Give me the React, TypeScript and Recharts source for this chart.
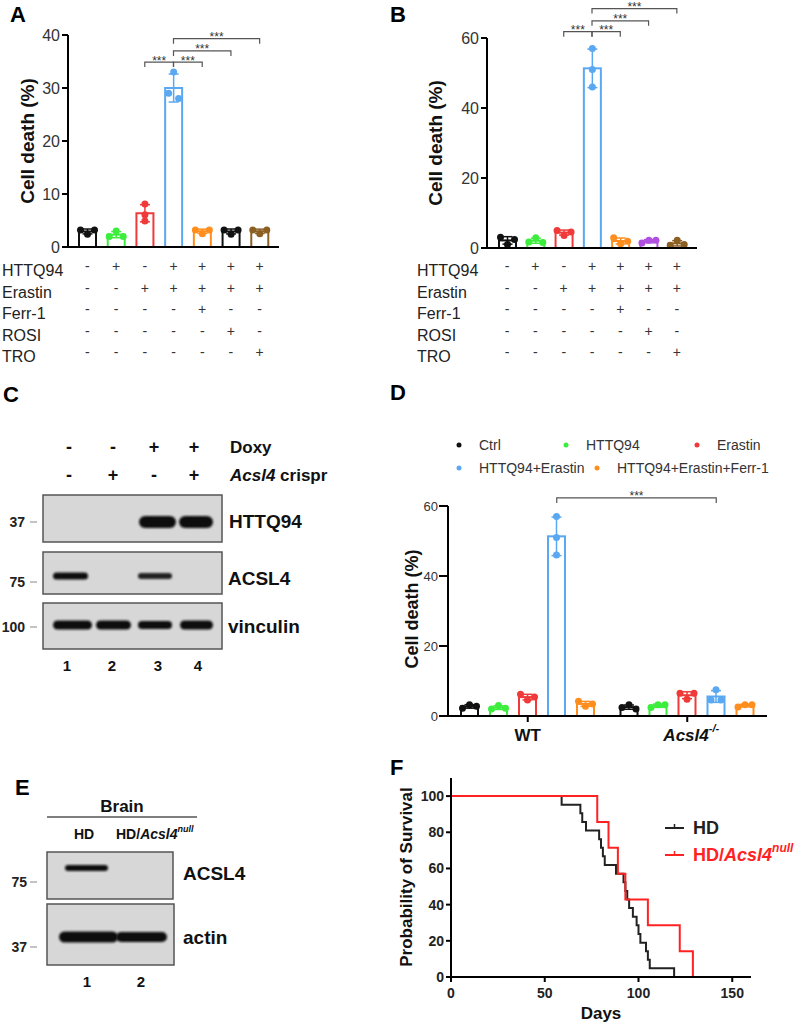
import React from 'react'
import { BarChart, Bar, XAxis, YAxis, ReferenceLine, LineChart, Line } from 'recharts'

const FONT = '"Liberation Sans", Arial, Helvetica, sans-serif'

// ---- panels A and B ----
const TREATMENTS = ['HTTQ94', 'Erastin', 'Ferr-1', 'ROSI', 'TRO']
const CONDITIONS = ['Ctrl', 'HTTQ94', 'Erastin', 'HTTQ94+Erastin', 'HTTQ94+Erastin+Ferr-1', 'HTTQ94+Erastin+ROSI', 'HTTQ94+Erastin+TRO']
const SIGNS = [
  ['-', '+', '-', '+', '+', '+', '+'],
  ['-', '-', '+', '+', '+', '+', '+'],
  ['-', '-', '-', '-', '+', '-', '-'],
  ['-', '-', '-', '-', '-', '+', '-'],
  ['-', '-', '-', '-', '-', '-', '+'],
]
const A_COLORS = ['#111111', '#3ded3d', '#f03a3a', '#5aa8f2', '#ff8e1e', '#111111', '#8c5f22']
const B_COLORS = ['#111111', '#3ded3d', '#f03a3a', '#5aa8f2', '#ff8e1e', '#b150e0', '#8c5f22']
const A_DOTS = [
  [3.2, 2.4, 3.2],
  [2.0, 3.0, 2.0],
  [8.1, 6.1, 4.9],
  [33, 29, 28],
  [3.2, 2.5, 3.2],
  [3.2, 2.4, 3.2],
  [3.2, 2.5, 3.2],
]
const B_DOTS = [
  [3.1, 1.0, 2.4],
  [1.7, 2.9, 1.6],
  [5.0, 3.6, 4.6],
  [57, 51, 46],
  [2.9, 1.2, 1.9],
  [1.4, 2.2, 2.2],
  [0.8, 2.2, 1.0],
]
const A_TICKS = [0, 10, 20, 30, 40]
const B_TICKS = [0, 20, 40, 60]
const A_BRACKETS = [
  { from: 2, to: 3, y: 34.9 },
  { from: 3, to: 4, y: 34.9 },
  { from: 3, to: 5, y: 37.0 },
  { from: 3, to: 6, y: 39.3 },
]
const B_BRACKETS = [
  { from: 2, to: 3, y: 61.8 },
  { from: 3, to: 4, y: 61.8 },
  { from: 3, to: 5, y: 64.9 },
  { from: 3, to: 6, y: 68.4 },
]

// ---- panel D ----
const D_GENOTYPES = ['WT', 'Acsl4-/-']
const D_SERIES = ['Ctrl', 'HTTQ94', 'Erastin', 'HTTQ94+Erastin', 'HTTQ94+Erastin+Ferr-1']
const D_COLORS = ['#111111', '#3ded3d', '#f03a3a', '#5aa8f2', '#ff8e1e']
const D_DOTS = [
  [[2.2, 3.2, 2.8], [2.4, 3.2, 2.0]],
  [[2.0, 3.0, 2.2], [2.4, 3.2, 3.2]],
  [[6.2, 4.6, 5.4], [6.5, 4.8, 6.5]],
  [[57, 51, 46], [4.6, 7.5, 4.6]],
  [[4.2, 2.8, 3.4], [2.6, 3.2, 3.2]],
]
const D_TICKS = [0, 20, 40, 60]
const D_BRACKET = { series: 3, y: 62.3 }

// ---- panel F ----
const HD_DAYS = [0, 59, 69, 70, 72, 79, 80, 81, 82, 88, 92, 93, 94, 95, 97, 99, 100, 101, 104, 105, 106, 119]
const HD_SURV = [100, 95.2, 90.5, 85.7, 81.0, 76.2, 71.4, 66.7, 61.9, 57.1, 52.4, 47.6, 42.9, 38.1, 33.3, 28.6, 23.8, 19.0, 14.3, 9.5, 4.8, 0]
const NULL_DAYS = [0, 78, 84, 89, 93, 105, 122, 129]
const NULL_SURV = [100, 85.7, 71.4, 57.1, 42.9, 28.6, 14.3, 0]
const F_XTICKS = [0, 50, 100, 150]
const F_YTICKS = [0, 20, 40, 60, 80, 100]

const BAR_SIZE = 19
const D_BAR_GAP = 10

const avg = (a: number[]) => a.reduce((s, v) => s + v, 0) / a.length
const stdev = (a: number[]) => {
  const m = avg(a)
  return Math.sqrt(a.reduce((s, v) => s + (v - m) * (v - m), 0) / (a.length - 1))
}

// spread dots that sit on top of each other sideways, like prism does
function spread(ys: number[]) {
  const order = ys.map((_, i) => i).sort((a, b) => ys[a] - ys[b])
  const groups: number[][] = []
  order.forEach((i) => {
    const g = groups[groups.length - 1]
    if (g && Math.abs(ys[i] - ys[g[g.length - 1]]) < 6) g.push(i)
    else groups.push([i])
  })
  const off = ys.map(() => 0)
  groups.forEach((g) => {
    const s = [...g].sort((a, b) => a - b)
    const step = s.length === 2 ? 10 : 7
    s.forEach((i, k) => (off[i] = (k - (s.length - 1) / 2) * step))
  })
  return off
}

function DotBar(props: any) {
  const { x, y, width, height, color, dots } = props
  const m = avg(dots)
  const base = y + height
  const ppu = height / m
  const py = (v: number) => base - v * ppu
  const s = stdev(dots)
  const cx = x + width / 2
  const offs = spread(dots.map(py))
  const lo = py(Math.max(m - s, 0))
  const hi = py(m + s)
  return (
    <g>
      <rect x={x + 1} y={y} width={width - 2} height={height} fill="#fff" stroke={color} strokeWidth={2} />
      <line x1={cx} x2={cx} y1={hi} y2={lo} stroke={color} strokeWidth={1.5} />
      <line x1={cx - 5} x2={cx + 5} y1={hi} y2={hi} stroke={color} strokeWidth={1.5} />
      <line x1={cx - 5} x2={cx + 5} y1={lo} y2={lo} stroke={color} strokeWidth={1.5} />
      {dots.map((d: number, i: number) => (
        <circle key={i} cx={cx + offs[i]} cy={py(d)} r={3.5} fill={color} />
      ))}
    </g>
  )
}

// significance bracket drawn from the reference line's end points
const bracketShape = (dx: number) => (p: any) => {
  const a = p.x1 + dx
  const b = p.x2 + dx
  const y = p.y1
  return (
    <g>
      <path d={`M${a},${y + 5} V${y} H${b} V${y + 5}`} fill="none" stroke="#555" strokeWidth={1.2} />
      <text x={(a + b) / 2} y={y + 2.5} textAnchor="middle" fontSize={12} fill="#333" fontFamily={FONT}>***</text>
    </g>
  )
}

const SIGN_Y = [266, 288, 309, 331, 352]
const LABEL_Y = [270, 292, 313, 335, 356]

function SignTick(props: any) {
  const { x, payload } = props
  const idx = CONDITIONS.indexOf(payload.value)
  return (
    <g>
      {SIGNS.map((row, r) => (
        <text key={r} x={x} y={SIGN_Y[r]} textAnchor="middle" dominantBaseline="central" fontSize={14} fill="#333" fontFamily={FONT}>
          {row[idx]}
        </text>
      ))}
    </g>
  )
}

function CellDeathChart(props: {
  left: number; width: number; yWidth: number; top: number; zero: number; right: number;
  ymax: number; ticks: number[]; colors: string[]; dots: number[][]; brackets: { from: number; to: number; y: number }[];
  pad: number
}) {
  const { left, width, yWidth, top, zero, right, ymax, ticks, colors, dots, brackets, pad } = props
  const data = CONDITIONS.map((name, i) => ({ name, mean: avg(dots[i]) }))
  const H = 370
  return (
    <div style={{ position: 'absolute', left, top: 0 }}>
      <BarChart width={width} height={H} data={data} margin={{ top, right, left: 0, bottom: 0 }} barSize={BAR_SIZE}>
        <XAxis dataKey="name" interval={0} height={H - zero} tickLine={false}
          axisLine={{ stroke: '#000', strokeWidth: 2 }} padding={{ left: pad, right: pad }}
          tick={(p: any) => <SignTick {...p} />} />
        <YAxis domain={[0, ymax]} ticks={ticks} width={yWidth} tickSize={6} tickMargin={2}
          axisLine={{ stroke: '#000', strokeWidth: 2 }} tickLine={{ stroke: '#000', strokeWidth: 2 }}
          tick={{ fontSize: 16, fill: '#333', fontFamily: FONT }} />
        <Bar dataKey="mean" isAnimationActive={false}
          shape={(p: any) => {
            const i = CONDITIONS.indexOf(p.payload.name)
            return <DotBar {...p} color={colors[i]} dots={dots[i]} />
          }} />
        {brackets.map((b, i) => (
          <ReferenceLine key={i} ifOverflow="visible" shape={bracketShape(0)}
            segment={[{ x: CONDITIONS[b.from], y: b.y }, { x: CONDITIONS[b.to], y: b.y }]} />
        ))}
      </BarChart>
    </div>
  )
}

function GenotypeTick(props: any) {
  const { x, y, payload } = props
  if (payload.value === 'WT') {
    return <text x={x} y={y + 11} textAnchor="middle" dominantBaseline="central" fontSize={17} fontWeight="bold" fill="#111" fontFamily={FONT}>WT</text>
  }
  return (
    <text x={x + 4} y={y + 11} textAnchor="middle" dominantBaseline="central" fontSize={17} fontWeight="bold" fill="#111" fontFamily={FONT}>
      <tspan fontStyle="italic">Acsl4</tspan>
      <tspan fontSize={11} dy={-7} fontStyle="italic">-/-</tspan>
    </text>
  )
}

function PanelD() {
  const data = D_GENOTYPES.map((g, gi) => {
    const row: any = { genotype: g }
    D_SERIES.forEach((_, si) => (row['s' + si] = avg(D_DOTS[si][gi])))
    return row
  })
  // blue bar sits one bar-step right of the group centre
  const dx = (D_BRACKET.series - (D_SERIES.length - 1) / 2) * (BAR_SIZE + D_BAR_GAP)
  return (
    <div style={{ position: 'absolute', left: 400, top: 480 }}>
      <BarChart width={380} height={270} data={data} margin={{ top: 26, right: 13, left: 0, bottom: 0 }} barSize={BAR_SIZE} barGap={D_BAR_GAP}>
        <XAxis dataKey="genotype" interval={0} height={34} tickSize={6}
          axisLine={{ stroke: '#000', strokeWidth: 2 }} tickLine={{ stroke: '#000', strokeWidth: 2 }}
          tick={(p: any) => <GenotypeTick {...p} />} />
        <YAxis domain={[0, 60]} ticks={D_TICKS} width={48} tickSize={9} tickMargin={1}
          axisLine={{ stroke: '#000', strokeWidth: 2 }} tickLine={{ stroke: '#000', strokeWidth: 2 }}
          tick={{ fontSize: 13, fill: '#333', fontFamily: FONT }} />
        {D_SERIES.map((s, si) => (
          <Bar key={s} dataKey={'s' + si} name={s} isAnimationActive={false}
            shape={(p: any) => {
              const gi = D_GENOTYPES.indexOf(p.payload.genotype)
              return <DotBar {...p} color={D_COLORS[si]} dots={D_DOTS[si][gi]} />
            }} />
        ))}
        <ReferenceLine ifOverflow="visible" shape={bracketShape(dx)}
          segment={[{ x: D_GENOTYPES[0], y: D_BRACKET.y }, { x: D_GENOTYPES[1], y: D_BRACKET.y }]} />
      </BarChart>
    </div>
  )
}

function PanelF() {
  const hd = HD_DAYS.map((day, i) => ({ day, pct: HD_SURV[i] }))
  const nl = NULL_DAYS.map((day, i) => ({ day, pct: NULL_SURV[i] }))
  const axis = { stroke: '#000', strokeWidth: 2 }
  const tick = { fontSize: 14, fontWeight: 'bold', fill: '#222', fontFamily: FONT }
  return (
    <div style={{ position: 'absolute', left: 400, top: 760 }}>
      <LineChart width={396} height={264} margin={{ top: 18, right: 45, left: 0, bottom: 0 }}>
        <XAxis type="number" dataKey="day" domain={[0, 160]} ticks={F_XTICKS} height={47} tickSize={5} tickMargin={6}
          axisLine={axis} tickLine={axis} tick={tick} allowDataOverflow />
        <YAxis type="number" domain={[0, 110]} ticks={F_YTICKS} width={51} tickSize={5} tickMargin={2}
          axisLine={axis} tickLine={axis} tick={tick} allowDataOverflow />
        <Line data={hd} dataKey="pct" type="stepAfter" stroke="#222" strokeWidth={2} dot={false} isAnimationActive={false} />
        <Line data={nl} dataKey="pct" type="stepAfter" stroke="#ff2222" strokeWidth={2} dot={false} isAnimationActive={false} />
      </LineChart>
    </div>
  )
}

const LEGEND_POS = [
  [459, 445], [566, 445], [697, 445], [459, 468], [597, 468],
]

function Band({ x1, x2, y, h, fill = '#111' }: { x1: number; x2: number; y: number; h: number; fill?: string }) {
  return <rect x={x1} y={y - h / 2} width={x2 - x1} height={h} rx={h / 2} fill={fill} filter="url(#blur)" />
}

function Marker({ label, x, y }: { label: string; x: number; y: number }) {
  return (
    <g>
      <text x={x} y={y} textAnchor="end" dominantBaseline="central" fontSize={14} fontWeight="bold" fill="#222">{label}</text>
      <line x1={30} x2={37} y1={y} y2={y} stroke="#888" strokeWidth={1} />
    </g>
  )
}

function Overlay() {
  const boxFill = '#d7d7d7'
  const boxStroke = '#555'
  const letter = { fontSize: 22, fontWeight: 'bold' as const, fill: '#000' }
  const rot = (cx: number, cy: number) => `translate(${cx},${cy}) rotate(-90)`
  return (
    <svg width={796} height={1024} style={{ position: 'absolute', left: 0, top: 0, pointerEvents: 'none' }} fontFamily={FONT}>
      <defs>
        <filter id="blur" x="-20%" y="-50%" width="140%" height="200%"><feGaussianBlur stdDeviation="1" /></filter>
      </defs>
      {/* panel letters */}
      <text x={10} y={22} {...letter}>A</text>
      <text x={390} y={22} {...letter}>B</text>
      <text x={3} y={402} {...letter}>C</text>
      <text x={390} y={400} {...letter}>D</text>
      <text x={15} y={795} {...letter}>E</text>
      <text x={390} y={775} {...letter}>F</text>

      {/* axis titles */}
      <text transform={rot(27, 141)} textAnchor="middle" dominantBaseline="central" fontSize={19} fontWeight="bold" fill="#111">Cell death (%)</text>
      <text transform={rot(435, 143)} textAnchor="middle" dominantBaseline="central" fontSize={19} fontWeight="bold" fill="#111">Cell death (%)</text>
      <text transform={rot(412, 609)} textAnchor="middle" dominantBaseline="central" fontSize={18} fontWeight="bold" fill="#111">Cell death (%)</text>
      <text transform={rot(406, 877)} textAnchor="middle" dominantBaseline="central" fontSize={17} fontWeight="bold" fill="#111">Probability of Survival</text>
      <text x={601} y={1013} textAnchor="middle" dominantBaseline="central" fontSize={17} fontWeight="bold" fill="#111">Days</text>

      {/* treatment row labels */}
      {TREATMENTS.map((t, r) => (
        <g key={t}>
          <text x={2} y={LABEL_Y[r]} dominantBaseline="central" fontSize={16} fill="#222">{t}</text>
          <text x={417} y={LABEL_Y[r]} dominantBaseline="central" fontSize={16} fill="#222">{t}</text>
        </g>
      ))}

      {/* D legend */}
      {D_SERIES.map((s, i) => (
        <g key={s}>
          <circle cx={LEGEND_POS[i][0]} cy={LEGEND_POS[i][1]} r={2.5} fill={D_COLORS[i]} />
          <text x={LEGEND_POS[i][0] + 20} y={LEGEND_POS[i][1]} dominantBaseline="central" fontSize={14} fill="#333">{s}</text>
        </g>
      ))}

      {/* F legend */}
      <g>
        <line x1={665} x2={684} y1={828} y2={828} stroke="#222" strokeWidth={2} />
        <line x1={674.5} x2={674.5} y1={824} y2={828} stroke="#222" strokeWidth={1.5} />
        <text x={693} y={828} dominantBaseline="central" fontSize={18} fontWeight="bold" fill="#222">HD</text>
        <line x1={665} x2={684} y1={855} y2={855} stroke="#ff2222" strokeWidth={2} />
        <line x1={674.5} x2={674.5} y1={851} y2={855} stroke="#ff2222" strokeWidth={1.5} />
        <text x={693} y={855} dominantBaseline="central" fontSize={18} fontWeight="bold" fill="#ff2222">
          HD/<tspan fontStyle="italic">Acsl4</tspan><tspan fontStyle="italic" fontSize={12} dy={-7}>null</tspan>
        </text>
      </g>

      {/* C western blot */}
      <g fontWeight="bold" fill="#111">
        {['-', '-', '+', '+'].map((s, i) => (
          <text key={'d' + i} x={[69, 113, 154, 194][i]} y={447} textAnchor="middle" dominantBaseline="central" fontSize={18}>{s}</text>
        ))}
        {['-', '+', '-', '+'].map((s, i) => (
          <text key={'a' + i} x={[69, 113, 154, 194][i]} y={475} textAnchor="middle" dominantBaseline="central" fontSize={18}>{s}</text>
        ))}
        <text x={230} y={447} dominantBaseline="central" fontSize={17}>Doxy</text>
        <text x={230} y={475} dominantBaseline="central" fontSize={17}><tspan fontStyle="italic">Acsl4</tspan> crispr</text>
      </g>
      <rect x={43} y={495} width={179} height={47} fill={boxFill} stroke={boxStroke} strokeWidth={1.5} />
      <Band x1={139} x2={176} y={522} h={12} />
      <Band x1={179} x2={213} y={522} h={12} />
      <rect x={43} y={552} width={179} height={42} fill={boxFill} stroke={boxStroke} strokeWidth={1.5} />
      <Band x1={53} x2={88} y={576} h={7} />
      <Band x1={138} x2={172} y={576} h={6} fill="#222" />
      <rect x={43} y={603} width={179} height={46} fill={boxFill} stroke={boxStroke} strokeWidth={1.5} />
      <Band x1={53} x2={92} y={625} h={9} />
      <Band x1={96} x2={131} y={625} h={9} />
      <Band x1={138} x2={172} y={625} h={8} />
      <Band x1={180} x2={213} y={625} h={9} />
      <Marker label="37" x={25} y={522} />
      <Marker label="75" x={25} y={582} />
      <Marker label="100" x={25} y={627} />
      <g fontWeight="bold" fill="#111">
        <text x={229} y={521} dominantBaseline="central" fontSize={19}>HTTQ94</text>
        <text x={228} y={578} dominantBaseline="central" fontSize={19}>ACSL4</text>
        <text x={228} y={626} dominantBaseline="central" fontSize={19}>vinculin</text>
        {['1', '2', '3', '4'].map((n, i) => (
          <text key={n} x={[67, 112, 158, 198][i]} y={665} textAnchor="middle" dominantBaseline="central" fontSize={15}>{n}</text>
        ))}
      </g>

      {/* E western blot */}
      <g fontWeight="bold" fill="#111">
        <text x={122} y={806} textAnchor="middle" dominantBaseline="central" fontSize={17}>Brain</text>
        <line x1={47} x2={197} y1={817} y2={817} stroke="#555" strokeWidth={1.5} />
        <text x={84} y={834} textAnchor="middle" dominantBaseline="central" fontSize={14}>HD</text>
        <text x={116} y={834} dominantBaseline="central" fontSize={14}>
          HD/<tspan fontStyle="italic">Acsl4</tspan><tspan fontStyle="italic" fontSize={9} dy={-5}>null</tspan>
        </text>
        <text x={183} y={873} dominantBaseline="central" fontSize={19}>ACSL4</text>
        <text x={183} y={937} dominantBaseline="central" fontSize={19}>actin</text>
        <text x={87} y={981} textAnchor="middle" dominantBaseline="central" fontSize={15}>1</text>
        <text x={141} y={981} textAnchor="middle" dominantBaseline="central" fontSize={15}>2</text>
      </g>
      <rect x={47} y={852} width={126} height={47} fill={boxFill} stroke={boxStroke} strokeWidth={1.5} />
      <Band x1={65} x2={108} y={868} h={6} />
      <rect x={47} y={904} width={127} height={61} fill={boxFill} stroke={boxStroke} strokeWidth={1.5} />
      <Band x1={59} x2={118} y={937} h={11} />
      <Band x1={116} x2={167} y={937} h={10} />
      <Marker label="75" x={27} y={882} />
      <Marker label="37" x={27} y={947} />
    </svg>
  )
}

export default function App() {
  return (
    <div style={{ position: 'absolute', left: 0, top: 0, width: 796, height: 1024, background: '#fff', fontFamily: FONT }}>
      <CellDeathChart left={0} width={300} yWidth={68} top={35} zero={247} right={21} ymax={40} ticks={A_TICKS}
        colors={A_COLORS} dots={A_DOTS} brackets={A_BRACKETS} pad={5} />
      <CellDeathChart left={420} width={297} yWidth={67} top={38} zero={248} right={20} ymax={60} ticks={B_TICKS}
        colors={B_COLORS} dots={B_DOTS} brackets={B_BRACKETS} pad={6} />
      <PanelD />
      <PanelF />
      <Overlay />
    </div>
  )
}
